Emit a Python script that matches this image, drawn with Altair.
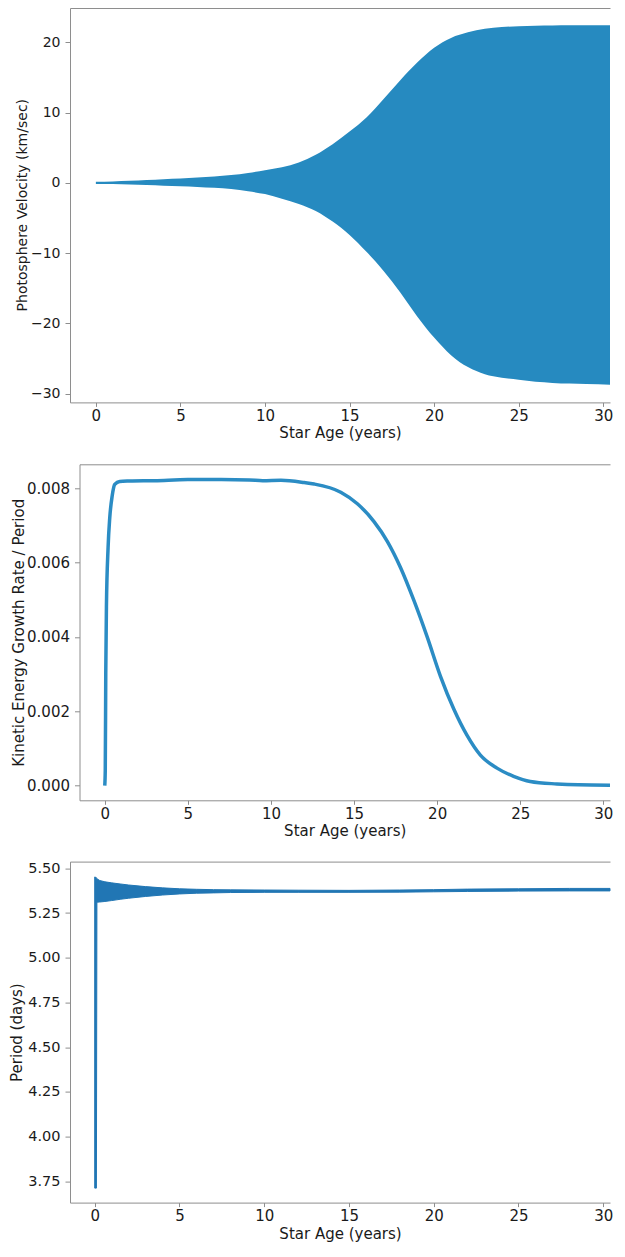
import altair as alt
import pandas as pd

# ---------------- data ----------------
# Panel 1: envelope of the (densely oscillating) photosphere velocity, km/sec
vel_age = [0, 1, 2, 3, 4, 5, 6, 7, 8, 9, 10, 11, 12, 13, 14, 15, 16, 17, 18,
           19, 20, 21, 22, 23, 24, 25, 26, 27, 28, 29, 30.4]
vel_upper = [0.15, 0.2, 0.28, 0.4, 0.52, 0.62, 0.75, 0.9, 1.1, 1.4, 1.8, 2.2,
             2.9, 4.0, 5.5, 7.3, 9.3, 11.9, 14.6, 17.1, 19.2, 20.6, 21.4, 21.9,
             22.15, 22.28, 22.34, 22.37, 22.39, 22.4, 22.4]
vel_lower = [-0.15, -0.18, -0.24, -0.32, -0.4, -0.48, -0.58, -0.7, -0.88,
             -1.2, -1.6, -2.25, -3.0, -4.0, -5.5, -7.4, -9.8, -12.5, -15.6,
             -19.0, -22.0, -24.5, -26.2, -27.2, -27.7, -28.0, -28.3, -28.45,
             -28.55, -28.6, -28.7]

# Panel 2: kinetic energy growth rate / period
gr_age = [0, 0.03, 0.06, 0.1, 0.2, 0.3, 0.45, 0.6, 0.9, 1.5, 3, 5, 7, 8.7,
          9.5, 10.6, 12, 12.6, 14.2, 15.2, 16.2, 17.0, 17.8, 18.6, 19.4, 20.2,
          21.0, 21.8, 22.6, 23.6, 24.6, 25.6, 27.2, 28.5, 30.4]
gr_rate = [0.0, 0.0004, 0.003, 0.0048, 0.0064, 0.0072, 0.0078, 0.0081,
           0.00818, 0.00819, 0.0082, 0.00823, 0.00823, 0.00822, 0.0082,
           0.00821, 0.00815, 0.00811, 0.00789, 0.00758, 0.0071, 0.00657,
           0.00586, 0.00498, 0.004, 0.00294, 0.00206, 0.00135, 0.00082,
           0.00047, 0.00025, 0.00011, 0.000045, 0.00002, 0.00001]

# Panel 3: envelope of the period (days)
per_age = [0, 0.1, 0.13, 0.3, 0.6, 1, 1.5, 2, 3, 4, 5, 6, 7, 8, 10, 12, 15,
           18, 20, 22, 25, 28, 30.4]
per_upper = [5.452, 5.448, 5.442, 5.432, 5.425, 5.419, 5.413, 5.407, 5.398,
             5.391, 5.386, 5.383, 5.381, 5.380, 5.379, 5.378, 5.377, 5.379,
             5.381, 5.384, 5.386, 5.388, 5.388]
per_lower = [3.711, 3.711, 5.311, 5.312, 5.315, 5.320, 5.327, 5.333, 5.343,
             5.351, 5.357, 5.361, 5.363, 5.365, 5.366, 5.366, 5.366, 5.367,
             5.369, 5.371, 5.373, 5.374, 5.374]

x_ticks = [0, 5, 10, 15, 20, 25, 30]
vel_ticks = [-30, -20, -10, 0, 10, 20]
gr_ticks = [0.0, 0.002, 0.004, 0.006, 0.008]
per_ticks = [3.75, 4.0, 4.25, 4.5, 4.75, 5.0, 5.25, 5.5]

x_title = "Star Age (years)"

# ---------------- styling ----------------
FONT = "DejaVu Sans"
SPINE = "#8e8e8e"
TXT = "#1a1a1a"
W = 540


def bottom_axis(title_y=30.5):
    return alt.Axis(values=x_ticks, title=x_title, grid=False,
                    domainColor=SPINE, tickColor=SPINE, tickSize=4,
                    labelPadding=2, labelFont=FONT, labelFontSize=15,
                    labelColor=TXT, titleFont=FONT, titleFontSize=15,
                    titleColor=TXT, titleFontWeight="normal", titleY=title_y,
                    titleBaseline="middle")


def top_axis():
    return alt.Axis(orient="top", labels=False, ticks=False, title=None,
                    grid=False, domainColor=SPINE)


def left_axis(values, fmt, title, title_x, title_size, label_size,
              offset=0, title_y=None):
    kw = dict(values=values, format=fmt, title=title, grid=False,
              domainColor=SPINE, tickColor=SPINE, tickSize=5, labelPadding=5,
              labelFont=FONT, labelFontSize=label_size, labelColor=TXT,
              titleFont=FONT, titleFontSize=title_size, titleColor=TXT,
              titleFontWeight="normal", titleX=title_x, offset=offset)
    if title_y is not None:
        kw["titleY"] = title_y
    return alt.Axis(**kw)


# ---------------- panel 1 ----------------
df1 = pd.DataFrame({"age": vel_age, "upper": vel_upper, "lower": vel_lower})
xs1 = alt.Scale(domain=[-1.53, 30.4], nice=False, zero=False)
ys1 = alt.Scale(domain=[-31.22, 24.86], nice=False, zero=False)
p1_main = alt.Chart(df1).mark_area(color="#268ac0", interpolate="monotone").encode(
    x=alt.X("age:Q", scale=xs1, axis=bottom_axis()),
    y=alt.Y("upper:Q", scale=ys1,
            axis=left_axis(vel_ticks, "d", "Photosphere Velocity (km/sec)",
                           -41, 14, 14, title_y=196.7)),
    y2="lower:Q",
)
p1_top = alt.Chart(df1).mark_point(opacity=0, size=1).encode(
    x=alt.X("age:Q", scale=xs1, axis=top_axis()),
    y=alt.Y("upper:Q", scale=ys1, axis=None),
)
p1 = alt.layer(p1_main, p1_top).resolve_axis(x="independent", y="independent").properties(
    width=W, height=394.4)

# ---------------- panel 2 ----------------
df2 = pd.DataFrame({"age": gr_age, "rate": gr_rate})
xs2 = alt.Scale(domain=[-1.52, 30.4], range=[9.5, W], nice=False, zero=False)
ys2 = alt.Scale(domain=[-0.000395, 0.00864], nice=False, zero=False)
p2_main = alt.Chart(df2).mark_line(color="#2b8cc4", strokeWidth=3.5,
                                   interpolate="monotone").encode(
    x=alt.X("age:Q", scale=xs2, axis=bottom_axis()),
    y=alt.Y("rate:Q", scale=ys2,
            axis=left_axis(gr_ticks, ".3f", "Kinetic Energy Growth Rate / Period",
                           -53, 15, 15, offset=-9.5)),
)
p2_top = alt.Chart(df2).mark_point(opacity=0, size=1).encode(
    x=alt.X("age:Q", scale=xs2, axis=top_axis()),
    y=alt.Y("rate:Q", scale=ys2, axis=None),
)
p2 = alt.layer(p2_main, p2_top).resolve_axis(x="independent", y="independent").properties(
    width=W, height=336)

# ---------------- panel 3 ----------------
df3 = pd.DataFrame({"age": per_age, "upper": per_upper, "lower": per_lower})
xs3 = alt.Scale(domain=[-1.458, 30.4], nice=False, zero=False)
ys3 = alt.Scale(domain=[3.630, 5.538], nice=False, zero=False)
p3_main = alt.Chart(df3).mark_area(color="#2176b4", stroke="#2176b4",
                                   strokeWidth=1).encode(
    x=alt.X("age:Q", scale=xs3, axis=bottom_axis()),
    y=alt.Y("upper:Q", scale=ys3,
            axis=left_axis(per_ticks, ".2f", "Period (days)", -46, 15, 14.5)),
    y2="lower:Q",
)
p3_top = alt.Chart(df3).mark_point(opacity=0, size=1).encode(
    x=alt.X("age:Q", scale=xs3, axis=top_axis()),
    y=alt.Y("upper:Q", scale=ys3, axis=None),
)
p3 = alt.layer(p3_main, p3_top).resolve_axis(x="independent", y="independent").properties(
    width=W, height=341)

chart = alt.vconcat(p1, p2, p3, spacing=61.3, bounds="flush").properties(
    padding={"left": 1, "top": 0, "right": 0, "bottom": 0}
).configure_view(stroke=None)

chart.save("out.html", embed_options={"renderer": "svg", "actions": False})
